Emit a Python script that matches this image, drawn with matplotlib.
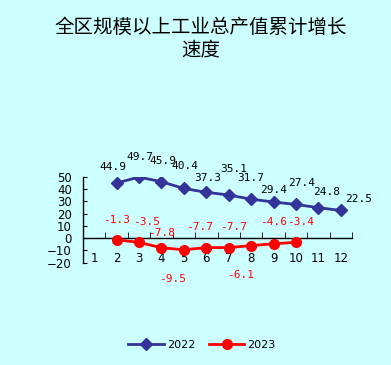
import matplotlib
matplotlib.use("Agg")
import matplotlib.pyplot as plt

plt.rcParams['font.family'] = ['DejaVu Sans', 'Noto Sans CJK SC']

# 数据
months = list(range(1, 13))
months_2022 = [2, 3, 4, 5, 6, 7, 8, 9, 10, 11, 12]
growth_2022 = [44.9, 49.7, 45.9, 40.4, 37.3, 35.1, 31.7, 29.4, 27.4, 24.8, 22.5]
months_2023 = [2, 3, 4, 5, 6, 7, 8, 9, 10]
growth_2023 = [-1.3, -3.5, -7.8, -9.5, -7.7, -7.7, -6.1, -4.6, -3.4]

# 数据标签的偏移（像素）
off_2022 = [(-4, -16), (1, -20), (1, -21), (1, -22), (1, -14), (5, -26),
            (0, -21), (0, -12), (6, -21), (8, -16), (18, -11)]
off_2023 = [(0, -20), (8, -20), (0, -15), (-11, 29), (-7, -21), (5, -21),
            (-11, 29), (0, -22), (5, -20)]

bg = '#CCFFFF'
fig = plt.figure(figsize=(3.91, 3.65), dpi=100, facecolor=bg)
ax = fig.add_axes([83 / 391, (365 - 262.7) / 365, 269 / 391, 86 / 365])
ax.set_facecolor(bg)

ax.plot(months_2022, growth_2022, color='#333399', lw=2, marker='D', ms=6.5,
        label='2022', zorder=3)
ax.plot(months_2023, growth_2023, color='#FF0000', lw=2, marker='o', ms=7,
        label='2023', zorder=3)

mono = 'DejaVu Sans Mono'
for m, v, (dx, dy) in zip(months_2022, growth_2022, off_2022):
    ax.annotate('%.1f' % v, (m, v), xytext=(dx * 0.72, -dy * 0.72), textcoords='offset points',
                ha='center', va='center', fontsize=8, family=mono, color='black',
                annotation_clip=False)
for m, v, (dx, dy) in zip(months_2023, growth_2023, off_2023):
    ax.annotate('%.1f' % v, (m, v), xytext=(dx * 0.72, -dy * 0.72), textcoords='offset points',
                ha='center', va='center', fontsize=8, family=mono, color='#FF0000',
                annotation_clip=False)

ax.set_xlim(0.5, 12.5)
ax.set_ylim(-20, 50)
ax.set_yticks(range(-20, 51, 10))
ax.set_xticks(months)
ax.set_xticklabels([str(m) for m in months])
ax.set_xticks([m + 0.5 for m in months], minor=True)

ax.spines['top'].set_visible(False)
ax.spines['right'].set_visible(False)
ax.spines['bottom'].set_position(('data', 0))
ax.spines['left'].set_linewidth(1)
ax.spines['bottom'].set_linewidth(1)

ax.tick_params(axis='y', direction='in', length=3, labelsize=8.5, pad=8)
ax.tick_params(axis='x', which='major', length=0, labelsize=8.5, pad=10)
ax.tick_params(axis='x', which='minor', direction='in', length=4)

fig.text(201 / 391, 1 - 27 / 365, '全区规模以上工业总产值累计增长', ha='center', va='center',
         fontsize=14, family='Noto Sans CJK SC')
fig.text(201 / 391, 1 - 50 / 365, '速度', ha='center', va='center',
         fontsize=14, family='Noto Sans CJK SC')

fig.legend(loc='center', bbox_to_anchor=(202 / 391, 1 - 345 / 365), ncol=2,
           frameon=False, fontsize=8, handlelength=3.2, columnspacing=1.2,
           handletextpad=0.3)

fig.savefig('out.png', dpi=100, facecolor=bg)
